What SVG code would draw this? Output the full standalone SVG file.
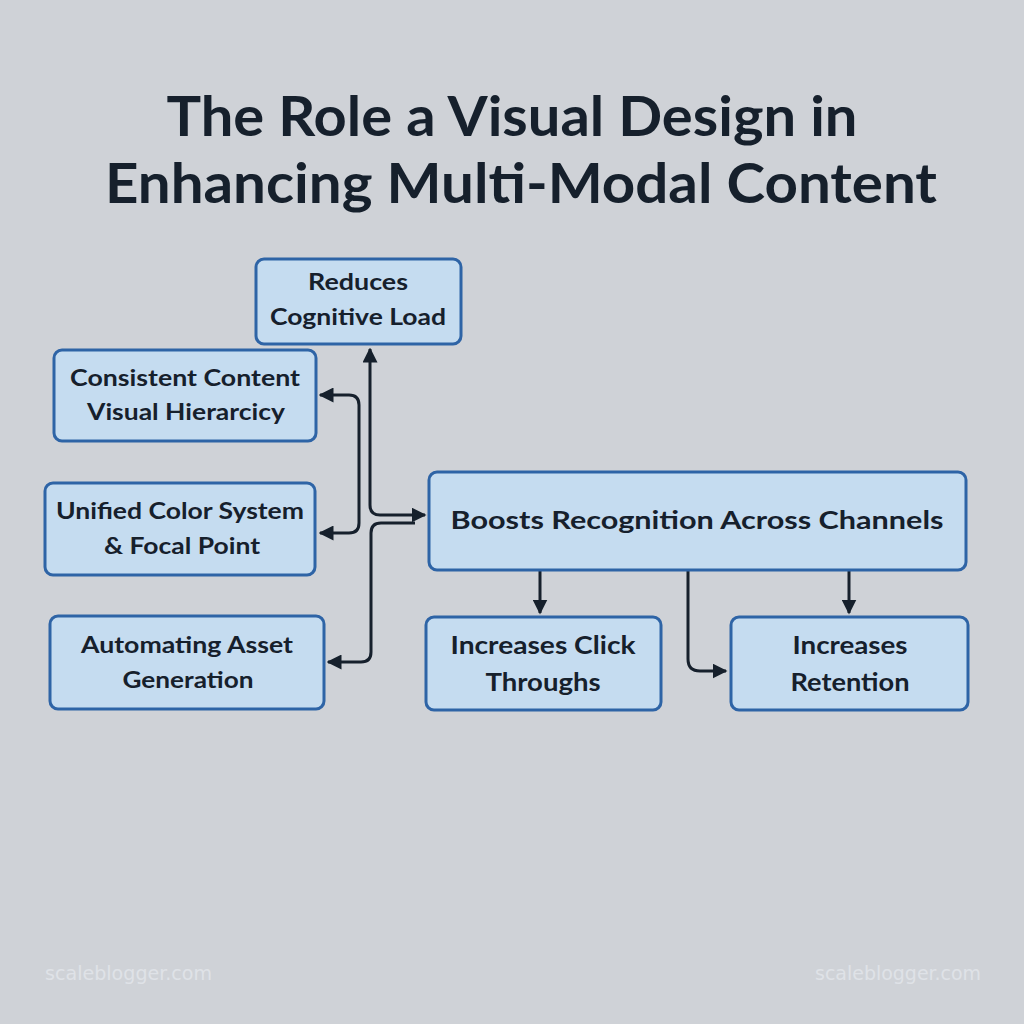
<svg xmlns="http://www.w3.org/2000/svg" width="1024" height="1024" viewBox="0 0 1024 1024">
<defs>
<marker id="ah" viewBox="0 0 10 10" refX="9" refY="5" markerWidth="5" markerHeight="5" orient="auto-start-reverse" markerUnits="strokeWidth">
<path d="M0,0 L10,5 L0,10 z" fill="#16202c"/>
</marker>
<style>
.box{fill:#c5dcf0;stroke:#2e64a6;stroke-width:3}
.t{font-family:Lato,"Liberation Sans",sans-serif;font-weight:700;font-size:23px;fill:#16202c;text-anchor:middle}
.big{font-size:25px}
.title{font-family:Lato,"Liberation Sans",sans-serif;font-weight:700;font-size:55px;fill:#16202c;text-anchor:middle}
.wm{font-family:"DejaVu Sans Condensed","DejaVu Sans",sans-serif;font-size:20px;fill:#dfe2e7}
.c{fill:none;stroke:#16202c;stroke-width:3}
</style>
</defs>
<rect width="1024" height="1024" fill="#cfd2d7"/>
<text class="title" x="512" y="136" textLength="691" lengthAdjust="spacingAndGlyphs">The Role a Visual Design in</text>
<text class="title" x="521" y="203" textLength="832" lengthAdjust="spacingAndGlyphs">Enhancing Multi-Modal Content</text>

<g id="connectors">
<path class="c" d="M370,349 V505 Q370,515 380,515 H425" marker-start="url(#ah)" marker-end="url(#ah)"/>
<path class="c" d="M415,523 H381 Q371,523 371,533 V652 Q371,662 361,662 H328" marker-end="url(#ah)"/>
<path class="c" d="M320,395 H349 Q359,395 359,405 V523 Q359,533 349,533 H320" marker-start="url(#ah)" marker-end="url(#ah)"/>
<path class="c" d="M540,571 V613" marker-end="url(#ah)"/>
<path class="c" d="M849,571 V613" marker-end="url(#ah)"/>
<path class="c" d="M688,571 V659 Q688,671 700,671 H726" marker-end="url(#ah)"/>
</g>

<g id="n-reduces">
<rect class="box" x="256" y="259" width="205" height="85" rx="8"/>
<text class="t" x="358" y="290" textLength="100" lengthAdjust="spacingAndGlyphs">Reduces</text>
<text class="t" x="358" y="325" textLength="176" lengthAdjust="spacingAndGlyphs">Cognitive Load</text>
</g>
<g id="n-consistent">
<rect class="box" x="54" y="350" width="262" height="91" rx="8"/>
<text class="t" x="185" y="386" textLength="230" lengthAdjust="spacingAndGlyphs">Consistent Content</text>
<text class="t" x="186" y="420" textLength="198" lengthAdjust="spacingAndGlyphs">Visual Hierarcicy</text>
</g>
<g id="n-unified">
<rect class="box" x="45" y="483" width="270" height="92" rx="8"/>
<text class="t" x="180" y="519" textLength="248" lengthAdjust="spacingAndGlyphs">Unified Color System</text>
<text class="t" x="182" y="554" textLength="156" lengthAdjust="spacingAndGlyphs">&amp; Focal Point</text>
</g>
<g id="n-automating">
<rect class="box" x="50" y="616" width="274" height="93" rx="8"/>
<text class="t" x="187" y="653" textLength="212" lengthAdjust="spacingAndGlyphs">Automating Asset</text>
<text class="t" x="188" y="688" textLength="131" lengthAdjust="spacingAndGlyphs">Generation</text>
</g>
<g id="n-boosts">
<rect class="box" x="429" y="472" width="537" height="98" rx="8"/>
<text class="t big" x="697" y="529" textLength="493" lengthAdjust="spacingAndGlyphs">Boosts Recognition Across Channels</text>
</g>
<g id="n-click">
<rect class="box" x="426" y="617" width="235" height="93" rx="8"/>
<text class="t big" x="543" y="654" textLength="185" lengthAdjust="spacingAndGlyphs">Increases Click</text>
<text class="t big" x="543" y="691" textLength="115" lengthAdjust="spacingAndGlyphs">Throughs</text>
</g>
<g id="n-retention">
<rect class="box" x="731" y="617" width="237" height="93" rx="8"/>
<text class="t big" x="850" y="654" textLength="115" lengthAdjust="spacingAndGlyphs">Increases</text>
<text class="t big" x="850" y="691" textLength="119" lengthAdjust="spacingAndGlyphs">Retention</text>
</g>

<text class="wm" x="45" y="980" textLength="167" lengthAdjust="spacingAndGlyphs">scaleblogger.com</text>
<text class="wm" x="815" y="980" textLength="166" lengthAdjust="spacingAndGlyphs">scaleblogger.com</text>
</svg>
